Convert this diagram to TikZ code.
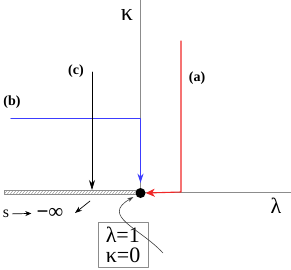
\documentclass[tikz,border=0pt]{standalone}
\usepackage{fontspec}
\setmainfont{Liberation Serif}
\usetikzlibrary{
	arrows.meta
}
\definecolor{PRed}{RGB}{240,40,40}
\definecolor{PBlue}{RGB}{60,60,255}
\colorlet{AGray}{black!45}
\tikzset{
	pathlab/.style={font=\fontsize{14}{14}\selectfont\bfseries},
	axlab/.style={font=\fontsize{24}{24}\selectfont},
	flow/.style={line width=1.1pt}
}
\newcommand{\hatchstrip}[4]{%
	\begin{scope}
		\clip (#1,#2) rectangle (#3,#4);
		\foreach \ii in {0,...,46}{%
			\draw[AGray, line width=0.4pt] ({#1+\ii*3},#4) -- ({#1+\ii*3+3},#2);
		}
	\end{scope}
	\draw[AGray, line width=0.5pt] (#1,#2) rectangle (#3,#4);
}

\begin{document}
\begin{tikzpicture}[x=1pt, y=-1pt, >=Stealth, line cap=round, line join=round]
	\useasboundingbox (0,0) rectangle (291,269);
	
	% -- Axes and the hatched strip --------------------------------
	\coordinate (Ktop) at (140.5,0);
	\coordinate (Lend) at (291,192);
	\draw[AGray, line width=0.9pt] (Ktop) -- (140.5,192) -- (Lend);
	\hatchstrip{4}{190.5}{138}{194.5}
	\node[axlab] (kap) at (127,15) {κ};
	\node[axlab, font=\fontsize{22}{22}\selectfont] (lam) at (276,206) {λ};
	
	% -- Fixed point -----------------------------------------------
	\node[circle, fill, inner sep=0pt, minimum size=10pt] (fp) at (140.5,193) {};
	
	% -- Path (a), red ---------------------------------------------
	\coordinate (Astart) at (181,41);
	\draw[PRed, flow, -{Stealth[length=9pt,width=8pt,inset=2.5pt]}]
	(Astart) -- (181,192) -- (fp.east);
	\node[pathlab] (la) at (197,78) {(a)};
	
	% -- Path (b), blue --------------------------------------------
	\coordinate (Bstart) at (11,118.3);
	\draw[PBlue, line width=1.5pt, shorten >=5pt, -{Stealth[length=9pt,width=6pt]}]
	(Bstart) -- (140.5,118.3) -- (fp.north);
	\node[pathlab] (lb) at (12,102) {(b)};
	
	% -- Path (c), black -------------------------------------------
	\coordinate (Cstart) at (92,72);
	\coordinate (Cend) at (92,190);
	\draw[line width=0.7pt, -{Stealth[length=10pt,width=6pt]}] (Cstart) -- (Cend);
	\node[pathlab] (lc) at (76,71) {(c)};
	
	% -- s -> -infinity --------------------------------------------
	\node[font=\fontsize{16}{16}\selectfont, inner sep=1pt] (s) at (6,214) {s};
	\node[font=\fontsize{21}{21}\selectfont, inner sep=1pt] (minf) at (50,213) {{\bfseries −}∞};
	\draw[line width=0.7pt, shorten <=2pt, shorten >=4pt, -{Stealth[length=6pt,width=5pt]}] (s) -- (minf);
	\coordinate (sa) at (90,201);
	\coordinate (sb) at (75,213);
	\draw[line width=0.7pt, -{Stealth[length=7pt,width=5pt]}] (sa) -- (sb);
	
	% -- Box with the fixed point values ---------------------------
	\node[draw=AGray, line width=0.7pt, align=left, inner sep=2pt,
	minimum width=50pt, minimum height=45pt,
	font=\fontsize{22}{20}\selectfont] (box) at (123,244.5) {λ=1\\κ=0};
	\coordinate (cs) at (163,253);
	\draw[black!75, line width=0.6pt, shorten >=3pt, -{Stealth[length=6pt,width=4pt]}]
	(cs) .. controls (140,228) and (100,216) .. (fp.210);
	
\end{tikzpicture}
\end{document}
